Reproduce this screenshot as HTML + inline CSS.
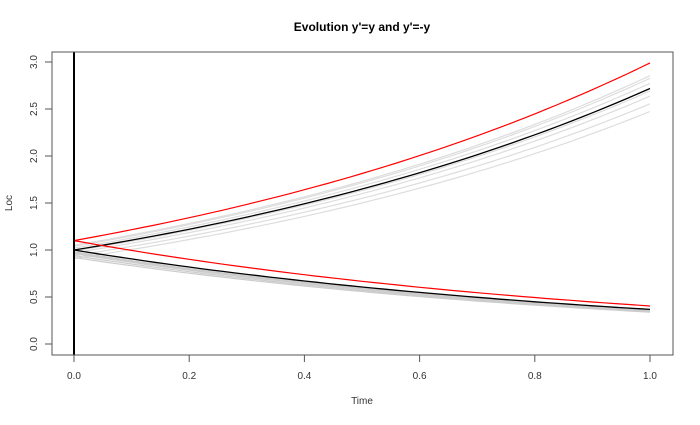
<!DOCTYPE html>
<html><head><meta charset="utf-8"><style>
body{margin:0;background:#fff;}
svg text{font-family:"Liberation Sans",Arial,sans-serif;}
</style></head><body>
<svg id="s" width="700" height="420" xmlns="http://www.w3.org/2000/svg">
<rect width="700" height="420" fill="#fff"/>
<text x="362" y="31" font-size="12" font-weight="bold" text-anchor="middle" fill="#000">Evolution y'=y and y'=-y</text>
<g id="lines" fill="none" stroke-width="1"></g>
<line x1="74" y1="52" x2="74" y2="355" stroke="#000" stroke-width="2"/>
<rect x="52" y="52" width="621" height="303" fill="none" stroke="#555" stroke-width="1"/>
<g stroke="#555">
<line x1="74" y1="355" x2="74" y2="362"/><line x1="189.2" y1="355" x2="189.2" y2="362"/>
<line x1="304.4" y1="355" x2="304.4" y2="362"/><line x1="419.6" y1="355" x2="419.6" y2="362"/>
<line x1="534.8" y1="355" x2="534.8" y2="362"/><line x1="650" y1="355" x2="650" y2="362"/>
<line x1="45" y1="344" x2="52" y2="344"/><line x1="45" y1="297" x2="52" y2="297"/>
<line x1="45" y1="250" x2="52" y2="250"/><line x1="45" y1="203" x2="52" y2="203"/>
<line x1="45" y1="156" x2="52" y2="156"/><line x1="45" y1="109" x2="52" y2="109"/>
<line x1="45" y1="62" x2="52" y2="62"/>
</g>
<g font-size="10" fill="#333" text-anchor="middle">
<text x="74" y="379">0.0</text><text x="189.2" y="379">0.2</text><text x="304.4" y="379">0.4</text>
<text x="419.6" y="379">0.6</text><text x="534.8" y="379">0.8</text><text x="650" y="379">1.0</text>
<text transform="translate(37,344) rotate(-90)">0.0</text>
<text transform="translate(37,297) rotate(-90)">0.5</text>
<text transform="translate(37,250) rotate(-90)">1.0</text>
<text transform="translate(37,203) rotate(-90)">1.5</text>
<text transform="translate(37,156) rotate(-90)">2.0</text>
<text transform="translate(37,109) rotate(-90)">2.5</text>
<text transform="translate(37,62) rotate(-90)">3.0</text>
<text x="362" y="404">Time</text>
<text transform="translate(12,203) rotate(-90)">Loc</text>
</g>
</svg>
<script>
var g=document.getElementById('lines');
function X(t){return 74+576*t;}function Y(v){return 344-94*v;}
function add(c,sign,col,w){var d='';for(var i=0;i<=50;i++){var t=i/50;var v=c*Math.exp(sign*t);d+=(i?'L':'M')+X(t).toFixed(1)+' '+Y(v).toFixed(1);}
var p=document.createElementNS('http://www.w3.org/2000/svg','path');p.setAttribute('d',d);p.setAttribute('stroke',col);p.setAttribute('stroke-width',w);g.appendChild(p);}
[0.91,0.94,0.97,0.99,1.02,1.04,1.05].forEach(function(c){add(c,1,'#ddd',1.2);});
[0.92,0.94,0.96,0.97,0.98].forEach(function(c){add(c,-1,'#ccc',1.2);});
add(1,1,'#000',1.3);add(1,-1,'#000',1.3);
add(1.1,1,'#f00',1.2);add(1.1,-1,'#f00',1.2);
</script>
</body></html>
